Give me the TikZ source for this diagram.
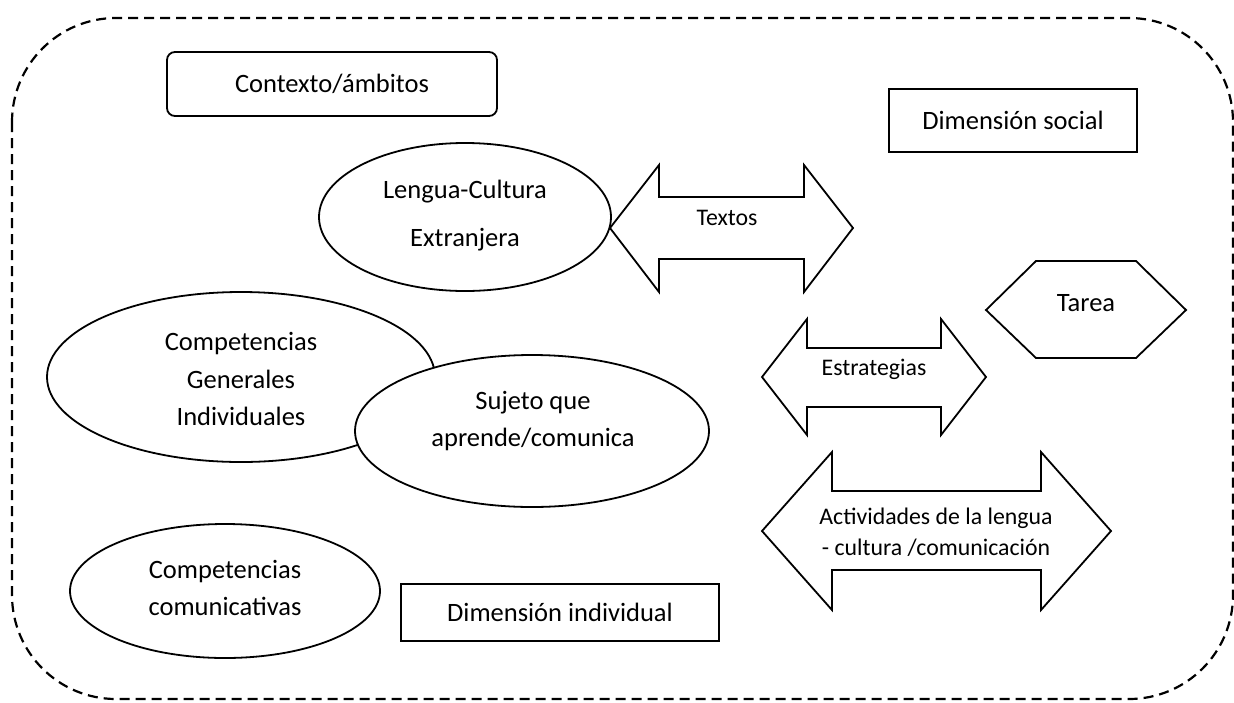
\documentclass[tikz,border=0pt]{standalone}
\usepackage{fontspec}
\setmainfont{Carlito}
\usetikzlibrary{shapes.geometric}
\begin{document}
\begin{tikzpicture}[x=1pt,y=-1pt,
  shapeline/.style={draw=black, line width=1.8pt, line join=miter},
  border/.style={draw=black, line width=2.2pt, dash pattern=on 10pt off 6pt},
  bigtext/.style={font=\fontsize{26.5}{37.5}\selectfont, align=center, inner sep=0pt},
  smalltext/.style={font=\fontsize{23.8}{31.5}\selectfont, align=center, inner sep=0pt},
  oval/.style={ellipse, draw=black, line width=1.8pt, inner sep=0pt},
  box/.style={draw=black, line width=1.8pt, inner sep=0pt, bigtext},
]
\useasboundingbox (0,0) rectangle (1234,702);
% outer dashed frame
\draw[border, rounded corners=104pt] (12,18) rectangle (1233,699);

% boxes
\node[box, rounded corners=8pt, minimum width=330pt, minimum height=64pt] (contexto) at (332,84) {Contexto/ámbitos};
\node[box, minimum width=248pt, minimum height=63pt] (social) at (1013,120.5) {Dimensión social};
\node[box, minimum width=318pt, minimum height=57pt] (individual) at (560,612.5) {Dimensión individual};

% Lengua-Cultura ellipse
\node[oval, minimum width=292pt, minimum height=148pt] (lengua) at (465,217) {};
\node[bigtext, font=\fontsize{26.5}{48}\selectfont] (lenguatxt) at (465,216) {Lengua-Cultura\\Extranjera};

% Textos double arrow
\coordinate (tl) at (610,228);
\coordinate (tr) at (853,228);
\draw[shapeline] (tl) -- (659,165) -- (659,197) -- (804,197) -- (804,165) -- (tr)
  -- (804,292) -- (804,259) -- (659,259) -- (659,292) -- cycle;
\node[smalltext] (textos) at (727,218) {Textos};

% Tarea hexagon
\coordinate (hl) at (986,310);
\coordinate (hr) at (1186,310);
\draw[shapeline] (hl) -- (1036,261) -- (1136,261) -- (hr) -- (1136,358) -- (1036,358) -- cycle;
\node[bigtext] (tarea) at (1086,303) {Tarea};

% Competencias generales
\node[oval, minimum width=388pt, minimum height=170pt] (generales) at (241,377) {};
\node[bigtext] (generalestxt) at (241,379) {Competencias\\Generales\\Individuales};

% Sujeto
\node[oval, fill=white, minimum width=354pt, minimum height=152pt] (sujeto) at (532,431) {};
\node[bigtext] (sujetotxt) at (533,421) {Sujeto que\\aprende/comunica};

% Estrategias double arrow
\coordinate (el) at (762,377);
\coordinate (er) at (986,377);
\draw[shapeline] (el) -- (807,319) -- (807,348) -- (941,348) -- (941,319) -- (er)
  -- (941,435) -- (941,407) -- (807,407) -- (807,435) -- cycle;
\node[smalltext] (estrategias) at (874,369) {Estrategias};

% Actividades double arrow
\coordinate (al) at (762,531);
\coordinate (ar) at (1111,531);
\draw[shapeline] (al) -- (832,452) -- (832,491) -- (1041,491) -- (1041,452) -- (ar)
  -- (1041,610) -- (1041,570) -- (832,570) -- (832,610) -- cycle;
\node[smalltext] (actividades) at (936,532) {Actividades de la lengua\\- cultura /comunicación};

% Competencias comunicativas
\node[oval, minimum width=310pt, minimum height=134pt] (comunicativas) at (225,591) {};
\node[bigtext] (comunicativastxt) at (225,588) {Competencias\\comunicativas};
\end{tikzpicture}
\end{document}
